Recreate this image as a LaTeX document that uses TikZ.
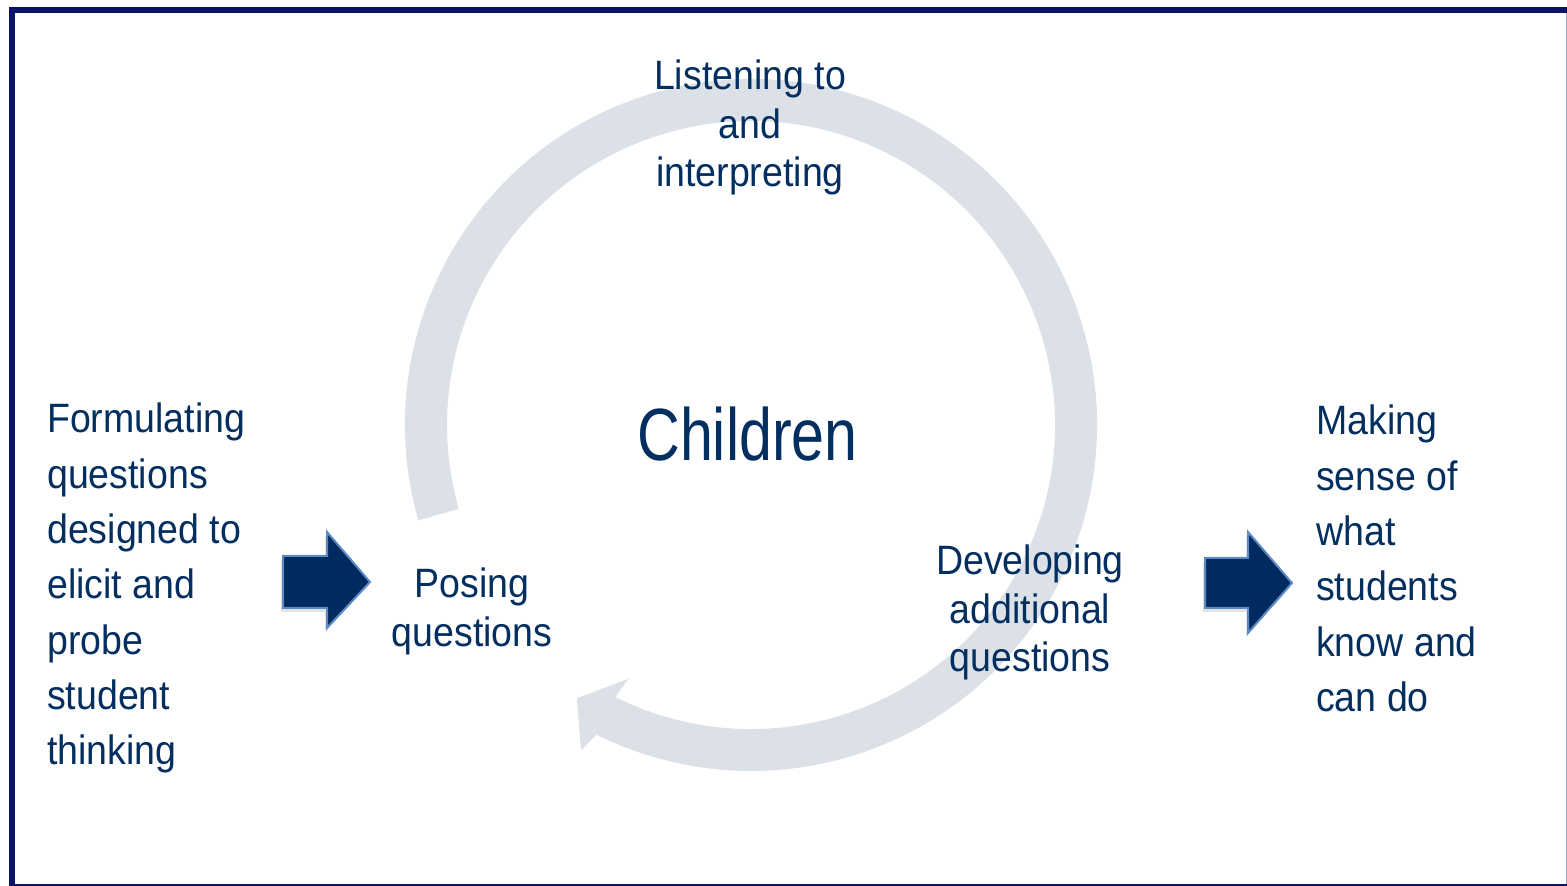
\documentclass[tikz,border=0pt]{standalone}
\usepackage{fontspec}
\usetikzlibrary{calc,shadows}
\newfontfamily\bodyf[FakeStretch=0.915]{Liberation Sans}
\newfontfamily\bigf[FakeStretch=0.8]{Liberation Sans}
\definecolor{framec}{RGB}{11,19,102}
\definecolor{navytext}{RGB}{3,46,96}
\definecolor{ringc}{RGB}{220,224,231}
\definecolor{arrfill}{RGB}{0,43,94}
\definecolor{arredge}{RGB}{92,138,198}
\tikzset{
  lbl/.style={text=navytext, inner sep=0pt, align=left, font=\bodyf\fontsize{41}{55.3}\selectfont},
  cyc/.style={text=navytext, inner sep=0pt, align=center, font=\bodyf\fontsize{41}{48.5}\selectfont},
  bigl/.style={text=navytext, inner sep=0pt, font=\bigf\fontsize{74}{80}\selectfont},
  blockarr/.style={fill=arrfill, draw=arredge, line width=2, line join=miter,
     drop shadow={opacity=0.22, shadow xshift=-2, shadow yshift=-4}},
  ring/.style={fill=ringc}
}
\begin{document}
\begin{tikzpicture}[x=1pt,y=1pt]
\useasboundingbox (0,0) rectangle (1567,886);
\fill[white] (0,0) rectangle (1567,886);
% frame
\draw[framec, line width=6] (12,-1) rectangle (1571,876);
\draw[framec!40, line width=1.2] (1566.4,873) -- (1566.4,2);
% ring
\coordinate (C) at (751,461);
\fill[ring] ($(C)+(196:346)$) arc[start angle=196, end angle=-117, radius=346]
   -- ($(C)+(-117:304)$) arc[start angle=-117, end angle=196, radius=304] -- cycle;
\coordinate (w1) at ($(C)+(-115.8:282)$);
\coordinate (w2) at ($(C)+(-117.6:367)$);
\coordinate (tp) at ($(C)+(-122.5:324)$);
\fill[ring] (w1) -- (tp) -- (w2) -- ($(C)+(-116.5:346)$) -- ($(C)+(-116.5:304)$) -- cycle;
% block arrows
\draw[blockarr] (283,330) -- (327,330) -- (327,354) -- (370,304) -- (327,258) -- (327,278) -- (283,278) -- cycle;
\draw[blockarr] (1205,328) -- (1248,328) -- (1248,354) -- (1292,303) -- (1248,253) -- (1248,278) -- (1205,278) -- cycle;
% labels
\node[lbl, anchor=north west] (form) at (47,483) {Formulating\\questions\\designed to\\elicit and\\probe\\student\\thinking};
\node[lbl, anchor=north west] (make) at (1316,481) {Making\\sense of\\what\\students\\know and\\can do};
\node[cyc, anchor=north] (listen) at (750,826) {Listening to\\and\\interpreting};
\node[cyc, anchor=north] (pose) at (472,318) {Posing\\questions};
\node[cyc, anchor=north] (dev) at (1030,341) {Developing\\additional\\questions};
\node[bigl, anchor=north] (child) at (747.5,479) {Children};
\end{tikzpicture}
\end{document}
